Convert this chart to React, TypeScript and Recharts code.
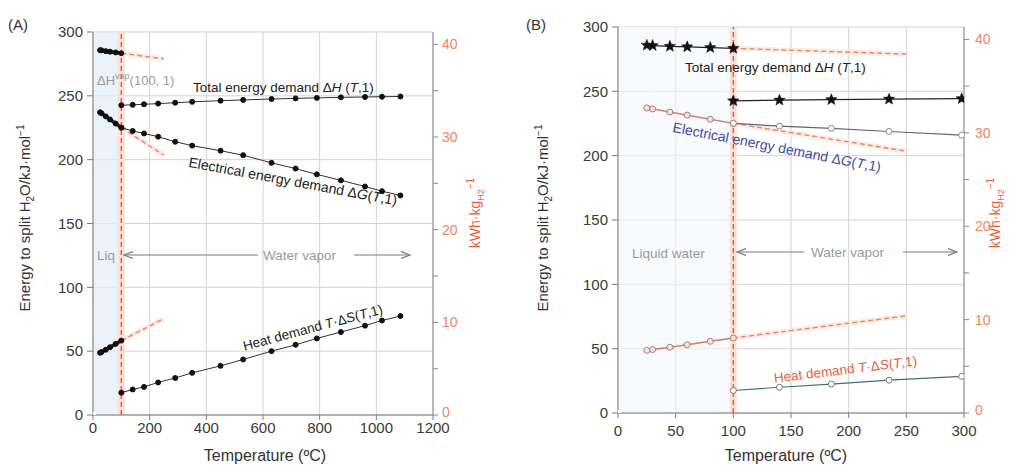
import React from 'react';
import { ComposedChart, Line, XAxis, YAxis, CartesianGrid, ReferenceLine, ReferenceArea } from 'recharts';

// ---------- data ----------
const liqT = [25, 30, 45, 60, 80, 100];
const totalLiq = [285.8, 285.6, 285.0, 284.6, 284.0, 283.4];
const elecLiq = [237.1, 236.3, 233.9, 231.5, 228.3, 225.1];
const heatLiq = [48.7, 49.3, 51.1, 53.1, 55.7, 58.3];

const extT = [100, 250];
const totalExt = [283.4, 279.0];
const elecExt = [225.1, 203.5];
const heatExt = [58.3, 75.5];

const vapTA = [100, 140, 180, 230, 290, 350, 450, 530, 630, 715, 790, 875, 960, 1020, 1085];
const totalVapA = [242.6, 243.0, 243.4, 243.9, 244.6, 245.3, 246.2, 246.8, 247.5, 248.0, 248.4, 248.8, 249.1, 249.3, 249.5];
const elecVapA = [225.1, 222.5, 220.5, 218.0, 214.0, 211.0, 207.0, 203.5, 197.5, 193.0, 188.5, 183.8, 179.0, 175.3, 172.0];
const heatVapA = [17.5, 20.0, 22.0, 25.5, 29.0, 33.0, 38.5, 43.5, 50.0, 55.0, 60.0, 65.0, 70.0, 74.0, 77.5];

const vapTB = [100, 140, 185, 235, 298];
const totalVapB = [242.6, 243.1, 243.5, 243.9, 244.3];
const elecVapB = [225.1, 223.0, 221.2, 218.8, 216.0];
const heatVapB = [17.5, 20.0, 22.5, 25.5, 28.5];

const leftTicks = [0, 50, 100, 150, 200, 250, 300];
const rightTicks = [0, 5, 10, 15, 20, 25, 30, 35, 40];
const xTicksA = [0, 200, 400, 600, 800, 1000, 1200];
const xTicksB = [0, 50, 100, 150, 200, 250, 300];
const KJ_PER_KWHKG = 7.2576; // kJ/mol per kWh/kg H2

const mk = (t: number[], v: number[]) => t.map((T, i) => ({ T, v: v[i] }));

const FONT = '"Liberation Sans", Arial, sans-serif';
const RED = '#e8603c';
const RED_T = '#f0845f';
const GRAY_TXT = '#9a9a9a';

const Star = (props: any) => {
  const { cx, cy, index } = props;
  if (cx == null || cy == null) return <g key={`s${index}`} />;
  const pts: string[] = [];
  for (let i = 0; i < 10; i++) {
    const r = i % 2 === 0 ? 6 : 2.6;
    const a = -Math.PI / 2 + (i * Math.PI) / 5;
    pts.push(`${cx + r * Math.cos(a)},${cy + r * Math.sin(a)}`);
  }
  return <polygon key={`s${index}`} points={pts.join(' ')} fill="#111" stroke="#111" strokeWidth={0.5} />;
};

const tickStyle = { fontSize: 15, fill: '#3a3a3a', fontFamily: FONT };

const RightTick = (props: any) => {
  const { x, y, payload } = props;
  const v = payload?.value;
  if (v % 10 !== 0) return <g />;
  return (
    <text x={x} y={v === 0 ? y - 3 : y} dy="0.355em" textAnchor="start" fontSize={14} fill={RED_T} fontFamily={FONT}>
      {v}
    </text>
  );
};

function Panel(props: { kind: 'A' | 'B' }) {
  const A = props.kind === 'A';
  const width = 506;
  const height = 471;
  const margin = A ? { top: 32, right: 0, left: 0, bottom: 0 } : { top: 27, right: 0, left: 0, bottom: 0 };
  const yW = A ? 93 : 112;
  const rW = A ? 73 : 48;
  const xH = A ? 56 : 58;
  const xMax = A ? 1200 : 300;
  const blackDot = { r: 2.5, fill: '#111', stroke: '#111', strokeWidth: 1 };
  return (
    <ComposedChart width={width} height={height} margin={margin}>
      {A && <ReferenceArea x1={0} x2={100} y1={0} y2={300} fill="#e3edf7" fillOpacity={0.7} stroke="none" />}
      {!A && <ReferenceArea x1={0} x2={100} y1={0} y2={300} fill="#f3f7fb" fillOpacity={0.6} stroke="none" />}
      <CartesianGrid stroke="#d2d2d2" strokeWidth={1} />
      <XAxis
        dataKey="T"
        type="number"
        domain={[0, xMax]}
        ticks={A ? xTicksA : xTicksB}
        height={xH}
        tick={tickStyle}
        tickSize={5}
        tickMargin={A ? 2 : 7}
        stroke="#7a7a7a"
        allowDataOverflow
      />
      <XAxis xAxisId="top" orientation="top" type="number" domain={[0, xMax]} height={0} tick={false} tickLine={false} stroke="#8a8a8a" />
      <YAxis
        type="number"
        domain={[0, 300]}
        ticks={leftTicks}
        width={yW}
        tick={tickStyle}
        tickSize={6}
        tickMargin={4}
        stroke="#7a7a7a"
        allowDataOverflow
      />
      <YAxis
        yAxisId="r"
        orientation="right"
        type="number"
        domain={[0, 300 / KJ_PER_KWHKG]}
        ticks={rightTicks}
        width={rW}
        tick={<RightTick />}
        tickSize={5}
        tickMargin={A ? 4 : 6}
        stroke="#8a8a8a"
        allowDataOverflow
      />
      <ReferenceLine x={100} stroke="#fbe2d9" strokeWidth={7} />
      <ReferenceLine x={100} stroke={RED} strokeWidth={1.5} strokeDasharray="5 3" />

      {/* hidden series on right axis */}
      <Line yAxisId="r" data={[{ T: 0, v: 0 }]} dataKey="v" stroke="none" dot={false} isAnimationActive={false} />

      {/* dashed extrapolations */}
      {[totalExt, elecExt, heatExt].map((e, i) => (
        <Line key={`h${i}`} data={mk(extT, e)} dataKey="v" stroke="#fdebe4" strokeWidth={5} dot={false} isAnimationActive={false} />
      ))}
      {[totalExt, elecExt, heatExt].map((e, i) => (
        <Line key={`e${i}`} data={mk(extT, e)} dataKey="v" stroke={RED_T} strokeWidth={1.4} strokeDasharray="5 3" dot={false} isAnimationActive={false} />
      ))}

      {A ? (
        <>
          <Line data={mk(liqT, totalLiq)} dataKey="v" stroke="#111" strokeWidth={3.5} dot={blackDot} isAnimationActive={false} />
          <Line data={mk(liqT, elecLiq)} dataKey="v" stroke="#3a1a1a" strokeWidth={3.5} dot={blackDot} isAnimationActive={false} />
          <Line data={mk(liqT, heatLiq)} dataKey="v" stroke="#3a1a1a" strokeWidth={3.5} dot={blackDot} isAnimationActive={false} />
          <Line data={mk(vapTA, totalVapA)} dataKey="v" stroke="#333" strokeWidth={1} dot={blackDot} isAnimationActive={false} />
          <Line data={mk(vapTA, elecVapA)} dataKey="v" stroke="#333" strokeWidth={1} dot={blackDot} isAnimationActive={false} />
          <Line data={mk(vapTA, heatVapA)} dataKey="v" stroke="#333" strokeWidth={1} dot={blackDot} isAnimationActive={false} />
        </>
      ) : (
        <>
          <Line data={mk(liqT, totalLiq)} dataKey="v" stroke="#222" strokeWidth={1.2} dot={Star} isAnimationActive={false} />
          <Line data={mk(liqT, elecLiq)} dataKey="v" stroke="#c98276" strokeWidth={1.5} dot={{ r: 3, fill: '#f3e4e0', stroke: '#b07a72', strokeWidth: 1 }} isAnimationActive={false} />
          <Line data={mk(liqT, heatLiq)} dataKey="v" stroke="#d8785c" strokeWidth={1.5} dot={{ r: 3, fill: '#f3e4e0', stroke: '#b07a72', strokeWidth: 1 }} isAnimationActive={false} />
          <Line data={mk(vapTB, totalVapB)} dataKey="v" stroke="#222" strokeWidth={1.2} dot={Star} isAnimationActive={false} />
          <Line data={mk(vapTB, elecVapB)} dataKey="v" stroke="#666" strokeWidth={1.2} dot={{ r: 3, fill: '#fff', stroke: '#888', strokeWidth: 1 }} isAnimationActive={false} />
          <Line data={mk(vapTB, heatVapB)} dataKey="v" stroke="#3f6f74" strokeWidth={1.2} dot={{ r: 3, fill: '#fff', stroke: '#777', strokeWidth: 1 }} isAnimationActive={false} />
        </>
      )}
    </ComposedChart>
  );
}

const txt = { fontFamily: FONT } as const;

function Overlay() {
  return (
    <svg width={1012} height={471} style={{ position: 'absolute', left: 0, top: 0, pointerEvents: 'none' }}>
      <defs>
        <marker id="arr" markerWidth="10" markerHeight="8" refX="9" refY="4" orient="auto-start-reverse" markerUnits="userSpaceOnUse">
          <path d="M0,0.5 L9,4 L0,7.5" fill="none" stroke="#7a7a7a" strokeWidth={1.2} />
        </marker>
      </defs>
      {/* panel labels */}
      <text x={8} y={30} fontSize={15} fill="#333" style={txt}>(A)</text>
      <text x={526} y={30} fontSize={15} fill="#333" style={txt}>(B)</text>

      {/* left axis labels */}
      {[30, 548].map((x, i) => (
        <text key={i} transform={`translate(${x},218) rotate(-90)`} textAnchor="middle" fontSize={15} fill="#333" style={txt}>
          Energy to split H<tspan dy={4} fontSize={10}>2</tspan><tspan dy={-4}>O/kJ·mol</tspan><tspan dy={-6} fontSize={10}>−1</tspan>
        </text>
      ))}
      {/* right axis labels */}
      {[480, 1000].map((x, i) => (
        <text key={i} transform={`translate(${x},213) rotate(-90)`} textAnchor="middle" fontSize={14} fill={RED} style={txt}>
          kWh·kg<tspan dy={4} fontSize={9}>H2</tspan><tspan dy={-10} fontSize={10}>−1</tspan>
        </text>
      ))}
      {/* x axis labels */}
      <text x={265} y={461} textAnchor="middle" fontSize={16} fill="#333" style={txt}>Temperature (ºC)</text>
      <text x={786} y={461} textAnchor="middle" fontSize={16} fill="#333" style={txt}>Temperature (ºC)</text>

      {/* Panel A annotations */}
      <text x={97} y={85} fontSize={13} fill={GRAY_TXT} style={txt}>
        ΔH<tspan dy={-6} fontSize={9}>vap</tspan><tspan dy={6}>(100, 1)</tspan>
      </text>
      <text x={193} y={92} fontSize={13.5} fill="#222" style={txt}>
        Total energy demand Δ<tspan fontStyle="italic">H</tspan> (<tspan fontStyle="italic">T</tspan>,1)
      </text>
      <text transform="translate(292,186) rotate(10.5)" textAnchor="middle" fontSize={14} fill="#222" style={txt}>
        Electrical energy demand Δ<tspan fontStyle="italic">G</tspan>(<tspan fontStyle="italic">T</tspan>,1)
      </text>
      <text transform="translate(314,332) rotate(-15)" textAnchor="middle" fontSize={13.5} fill="#222" style={txt}>
        Heat demand <tspan fontStyle="italic">T</tspan>·Δ<tspan fontStyle="italic">S</tspan>(<tspan fontStyle="italic">T</tspan>,1)
      </text>
      <text x={97} y={260} fontSize={13.5} fill={GRAY_TXT} style={txt}>Liq</text>
      <line x1={124} y1={255} x2={258} y2={255} stroke="#7a7a7a" strokeWidth={1} markerStart="url(#arr)" />
      <text x={263} y={260} fontSize={13.5} fill={GRAY_TXT} style={txt}>Water vapor</text>
      <line x1={354} y1={255} x2={410} y2={255} stroke="#7a7a7a" strokeWidth={1} markerEnd="url(#arr)" />

      {/* Panel B annotations */}
      <text x={685} y={72} fontSize={13.5} fill="#222" style={txt}>
        Total energy demand Δ<tspan fontStyle="italic">H</tspan> (<tspan fontStyle="italic">T</tspan>,1)
      </text>
      <text transform="translate(776,152) rotate(11)" textAnchor="middle" fontSize={14} fill="#3d4f9f" style={txt}>
        Electrical energy demand Δ<tspan fontStyle="italic">G</tspan>(<tspan fontStyle="italic">T</tspan>,1)
      </text>
      <text transform="translate(846,374) rotate(-7)" textAnchor="middle" fontSize={13.5} fill={RED} style={txt}>
        Heat demand <tspan fontStyle="italic">T</tspan>·Δ<tspan fontStyle="italic">S</tspan>(<tspan fontStyle="italic">T</tspan>,1)
      </text>
      <text x={632} y={258} fontSize={13.5} fill={GRAY_TXT} style={txt}>Liquid water</text>
      <line x1={737} y1={252} x2={804} y2={252} stroke="#7a7a7a" strokeWidth={1} markerStart="url(#arr)" />
      <text x={811} y={257} fontSize={13.5} fill={GRAY_TXT} style={txt}>Water vapor</text>
      <line x1={903} y1={252} x2={957} y2={252} stroke="#7a7a7a" strokeWidth={1} markerEnd="url(#arr)" />
    </svg>
  );
}

export default function App() {
  return (
    <div style={{ position: 'absolute', left: 0, top: 0, width: 1012, height: 471, background: '#fff', fontFamily: FONT }}>
      <div style={{ position: 'absolute', left: 0, top: 0 }}>
        <Panel kind="A" />
      </div>
      <div style={{ position: 'absolute', left: 506, top: 0 }}>
        <Panel kind="B" />
      </div>
      <Overlay />
    </div>
  );
}
